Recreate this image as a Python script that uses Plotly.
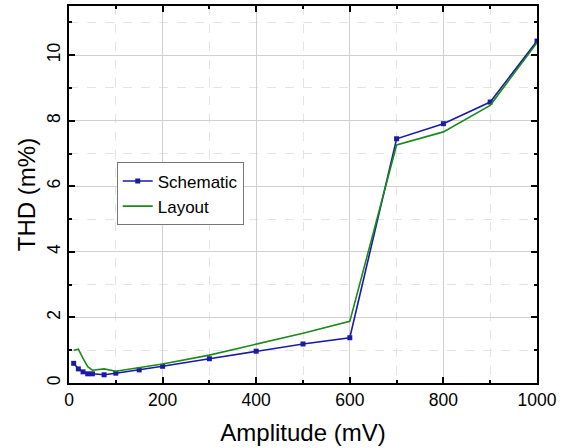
import plotly.graph_objects as go

amp_schematic = [10, 20, 30, 40, 50, 75, 100, 150, 200, 300, 400, 500, 600, 700, 800, 900, 1000]
thd_schematic = [0.60, 0.43, 0.34, 0.28, 0.28, 0.25, 0.30, 0.40, 0.51, 0.74, 0.97, 1.19, 1.38, 7.45, 7.91, 8.57, 10.43]

amp_layout = [10, 20, 30, 40, 50, 75, 100, 150, 200, 300, 400, 500, 600, 700, 800, 900, 1000]
thd_layout = [1.00, 1.03, 0.75, 0.50, 0.39, 0.43, 0.36, 0.47, 0.58, 0.85, 1.18, 1.52, 1.88, 7.26, 7.66, 8.47, 10.38]

x_ticks = [0, 200, 400, 600, 800, 1000]
y_ticks = [0, 2, 4, 6, 8, 10]

FONT = "Liberation Sans, Arial, sans-serif"

fig = go.Figure()
fig.add_trace(go.Scatter(
    x=amp_schematic, y=thd_schematic, name="Schematic", mode="lines+markers",
    line=dict(color="#1a1aa6", width=1.6),
    marker=dict(symbol="square", size=5, color="#1a1aa6"),
))
fig.add_trace(go.Scatter(
    x=amp_layout, y=thd_layout, name="Layout", mode="lines",
    line=dict(color="#1a8a1a", width=1.6),
))

axis_common = dict(
    showline=True, linecolor="black", linewidth=1.5, mirror="ticks",
    ticks="inside", ticklen=6, tickwidth=1.5, tickcolor="black",
    showgrid=True, gridcolor="#d0d0d0", gridwidth=1,
    zeroline=False, automargin=False,
    tickfont=dict(family=FONT, size=17.5, color="black"),
)

fig.update_xaxes(
    **axis_common,
    range=[0, 1000], tickvals=x_ticks, ticktext=[str(v) for v in x_ticks],
    minor=dict(dtick=100, tick0=0, ticks="inside", ticklen=3, tickcolor="black",
               showgrid=True, gridcolor="#e4e4e4", griddash="dash"),
    title=dict(text="Amplitude (mV)", font=dict(family=FONT, size=24, color="black"), standoff=15),
)
fig.update_yaxes(
    **axis_common,
    range=[0, 11.5], tickvals=y_ticks, ticktext=[str(v) for v in y_ticks], tickangle=-90,
    minor=dict(dtick=1, tick0=0, ticks="inside", ticklen=3, tickcolor="black",
               showgrid=True, gridcolor="#e4e4e4", griddash="dash"),
    title=dict(text="THD (m%)", font=dict(family=FONT, size=24, color="black"), standoff=2),
)

fig.update_layout(
    width=566, height=448,
    margin=dict(l=69, r=29, t=6, b=65),
    paper_bgcolor="white", plot_bgcolor="white",
    showlegend=True,
    legend=dict(
        x=0.102, y=0.585, xanchor="left", yanchor="top",
        bgcolor="white", bordercolor="#777777", borderwidth=1,
        font=dict(family=FONT, size=17, color="black"),
        tracegroupgap=0, itemwidth=30,
    ),
)

fig.write_html("out.html", config={"displayModeBar": False},
               post_script="document.body.style.margin='0';document.body.style.padding='0';")
